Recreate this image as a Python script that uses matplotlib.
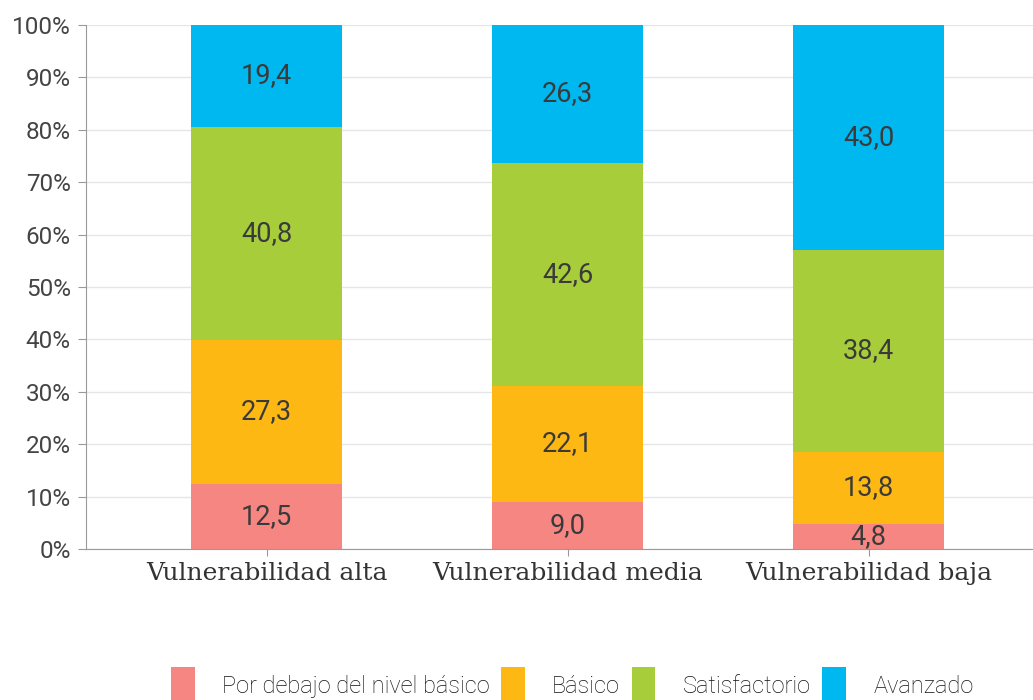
import matplotlib.pyplot as plt
import numpy as np
from matplotlib.patches import Patch

categories = ["Vulnerabilidad alta", "Vulnerabilidad media", "Vulnerabilidad baja"]
series_names = ["Por debajo del nivel básico", "Básico", "Satisfactorio", "Avanzado"]
por_debajo = [12.5, 9.0, 4.8]
basico = [27.3, 22.1, 13.8]
satisfactorio = [40.8, 42.6, 38.4]
avanzado = [19.4, 26.3, 43.0]
colors = ["#F58682", "#FDB813", "#A7CD3A", "#00B8F0"]

series = [por_debajo, basico, satisfactorio, avanzado]

fig = plt.figure(figsize=(10.33, 7.0), dpi=100)
ax = fig.add_axes([0.0833, 0.2157, 0.9167, 0.7486])

x = np.arange(len(categories))
bottom = np.zeros(len(categories))
for vals, col in zip(series, colors):
    vals = np.array(vals)
    ax.bar(x, vals, 0.5, bottom=bottom, color=col, zorder=2)
    for xi, b, v in zip(x, bottom, vals):
        ax.text(xi, b + v / 2, f"{v:.1f}".replace(".", ","), ha="center", va="center",
                fontsize=19.5, color="#3a3a3a", family="Roboto", zorder=3)
    bottom += vals

ax.set_xlim(-0.6, 2.546)
ax.set_ylim(0, 100)
ax.set_yticks(np.arange(0, 101, 10))
ax.set_yticklabels([f"{v}%" for v in range(0, 101, 10)], family="Roboto", fontsize=17.5, color="#444444")
ax.set_xticks(x)
ax.set_xticklabels(categories, family="DejaVu Serif", fontsize=18, color="#333333")
ax.grid(axis="y", color="#e6e6e6", linewidth=1, zorder=0)
for s in ["top", "right"]:
    ax.spines[s].set_visible(False)
for s in ["left", "bottom"]:
    ax.spines[s].set_color("#999999")
ax.tick_params(axis="y", length=6, color="#999999", pad=5)
ax.tick_params(axis="x", length=5, color="#999999", pad=4)

handles = [Patch(facecolor=c, label=n) for c, n in zip(colors, series_names)]
fig.legend(handles=handles, loc="lower center", bbox_to_anchor=(0.554, -0.035), ncol=4,
           frameon=False, prop={"family": "Roboto", "size": 17, "weight": "light"},
           handlelength=1.0, handleheight=2.0, handletextpad=1.15, columnspacing=0.5,
           labelcolor="#111111")

fig.savefig("out.png", dpi=100)
